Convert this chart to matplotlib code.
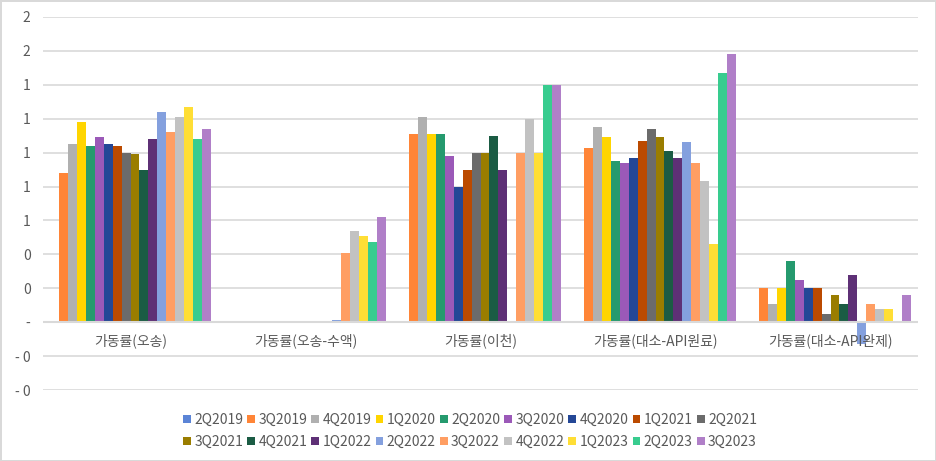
import numpy as np
import matplotlib
matplotlib.use("Agg")
import matplotlib.pyplot as plt

plt.rcParams['font.family'] = ['Noto Sans CJK KR', 'DejaVu Sans']

categories = ["가동률(오송)", "가동률(오송-수액)", "가동률(이천)",
              "가동률(대소-API원료)", "가동률(대소-API완제)"]

series = ["2Q2019", "3Q2019", "4Q2019", "1Q2020", "2Q2020", "3Q2020",
          "4Q2020", "1Q2021", "2Q2021", "3Q2021", "4Q2021", "1Q2022",
          "2Q2022", "3Q2022", "4Q2022", "1Q2023", "2Q2023", "3Q2023"]

nan = np.nan
# one list per category, in series order
osong = [nan, 0.88, 1.05, 1.18, 1.04, 1.09, 1.05, 1.04, 1.00, 0.99, 0.90,
         1.08, 1.24, 1.12, 1.21, 1.27, 1.08, 1.14]
osong_fluid = [nan, nan, nan, nan, nan, nan, nan, nan, nan, nan, nan,
               nan, 0.012, 0.41, 0.54, 0.51, 0.47, 0.62]
icheon = [nan, 1.11, 1.21, 1.11, 1.11, 0.98, 0.80, 0.90, 1.00, 1.00, 1.10,
          0.90, nan, 1.00, 1.20, 1.00, 1.40, 1.40]
daeso_api = [nan, 1.03, 1.15, 1.09, 0.95, 0.94, 0.97, 1.07, 1.14, 1.09, 1.01,
             0.97, 1.06, 0.94, 0.83, 0.46, 1.47, 1.58]
daeso_fin = [nan, 0.20, 0.11, 0.20, 0.36, 0.25, 0.20, 0.20, 0.05, 0.16, 0.11,
             0.28, -0.13, 0.11, 0.08, 0.08, nan, 0.16]

yticks = [-0.4, -0.2, 0.0, 0.2, 0.4, 0.6, 0.8, 1.0, 1.2, 1.4, 1.6, 1.8]
ytick_labels = ["- 0", "- 0", "-", "0", "0", "1", "1", "1", "1", "1", "2", "2"]

colors = ["#5B84D6", "#FF8537", "#B0B0B0", "#FFD500", "#259A6E", "#9B59B8",
          "#244796", "#BB4A00", "#6B6B6B", "#9A7D00", "#1B5C44", "#5E3076",
          "#84A0DE", "#FF9E63", "#C2C2C2", "#FFDE35", "#38CC8F", "#B07FC8"]

values = np.array([osong, osong_fluid, icheon, daeso_api, daeso_fin])

GRID = "#D9D9D9"
TEXT = "#595959"

fig = plt.figure(figsize=(9.36, 4.61), dpi=100, edgecolor=GRID, linewidth=2)
ax = fig.add_axes([43 / 936, 71 / 461, 875 / 936, 373 / 461])

x = np.arange(len(categories))
w = 1 / (len(series) + 1.6)
bars = []
for j, name in enumerate(series):
    b = ax.bar(x + (j - (len(series) - 1) / 2) * w, values[:, j], width=w,
               color=colors[j], label=name, zorder=2)
    bars.append(b)

ax.set_xlim(-0.5, len(categories) - 0.5)
ax.set_ylim(-0.4, 1.8)
ax.set_yticks(yticks)
ax.set_yticklabels(ytick_labels)
ax.set_xticks([])
ax.tick_params(axis="y", length=0, pad=9, labelsize=10, labelcolor=TEXT)
ax.grid(axis="y", color=GRID, linewidth=1.2, zorder=0)
ax.axhline(0, color=GRID, linewidth=1.5, zorder=3)
for s in ax.spines.values():
    s.set_visible(False)

for i, cat in enumerate(categories):
    ax.annotate(cat, xy=(i, 0), xytext=(0, -8), textcoords="offset points",
                ha="center", va="top", fontsize=10, color=TEXT, zorder=4)

# legend fills column by column, so interleave to get row-major order
ncol = 9
order = [k + r * ncol for k in range(ncol) for r in range(2)]
fig.legend([bars[k] for k in order], [series[k] for k in order],
           loc="center", bbox_to_anchor=(470 / 936, 1 - 431 / 461), ncol=ncol,
           frameon=False, fontsize=10, labelcolor=TEXT,
           handlelength=0.55, handleheight=0.55, handletextpad=0.25,
           columnspacing=0.3, labelspacing=0.55)

fig.savefig("out.png", dpi=100, edgecolor=fig.get_edgecolor())
